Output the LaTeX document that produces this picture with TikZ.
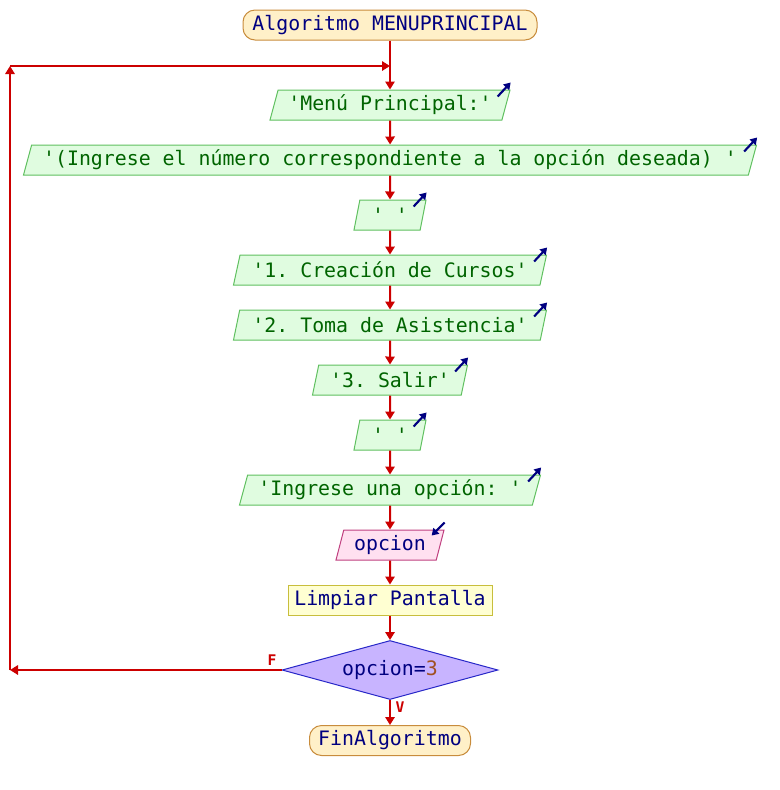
\documentclass[tikz,border=0pt]{standalone}
\usepackage{fontspec}
\setmonofont{DejaVu Sans Mono}
\usetikzlibrary{shapes.geometric,arrows.meta,calc}
\newcommand\px{0.75pt}
\definecolor{navytext}{RGB}{0,0,128}
\definecolor{strgreen}{RGB}{0,100,0}
\definecolor{outfill}{RGB}{224,252,224}
\definecolor{outdraw}{RGB}{96,192,96}
\definecolor{termfill}{RGB}{255,240,200}
\definecolor{termdraw}{RGB}{200,140,60}
\definecolor{procfill}{RGB}{255,255,210}
\definecolor{procdraw}{RGB}{200,190,60}
\definecolor{inpfill}{RGB}{255,224,240}
\definecolor{inpdraw}{RGB}{192,64,128}
\definecolor{decfill}{RGB}{200,180,255}
\definecolor{decdraw}{RGB}{40,40,200}
\definecolor{numcol}{RGB}{160,80,32}
\definecolor{flowred}{RGB}{204,0,0}
\begin{document}
\begin{tikzpicture}[x=0.75pt,y=-0.75pt,
  font=\ttfamily\fontsize{14.9}{18}\selectfont,
  base/.style={inner sep=0pt, minimum height=30*\px, text=navytext, line width=0.75pt},
  term/.style={base, rectangle, rounded corners=9pt, fill=termfill, draw=termdraw},
  proc/.style={base, rectangle, fill=procfill, draw=procdraw},
  para/.style={base, trapezium, trapezium left angle=68, trapezium right angle=112,
     trapezium stretches body},
  outp/.style={para, fill=outfill, draw=outdraw, text=strgreen},
  inp/.style={para, fill=inpfill, draw=inpdraw},
  dec/.style={base, diamond, aspect=3.66, minimum width=216*\px, minimum height=59*\px,
     fill=decfill, draw=decdraw},
  flow/.style={draw=flowred, line width=1.5pt, -{Triangle[length=6pt,width=7pt]}},
  icon/.style={draw=navytext, line width=1.6pt, -{Triangle[length=5pt,width=6pt]}},
  lab/.style={text=flowred, font=\ttfamily\bfseries\fontsize{11}{12}\selectfont, inner sep=0pt}
]
\useasboundingbox (0,0) rectangle (780,790);

\node[term, minimum width=294*\px] (start) at (390,25) {Algoritmo MENUPRINCIPAL};
\node[outp, minimum width=240*\px] (o1) at (390,105) {'Menú Principal:'};
\node[outp, minimum width=733*\px] (o2) at (390,160) {'(Ingrese el número correspondiente a la opción deseada) '};
\node[outp, minimum width=72*\px] (o3) at (390,215) {' '};
\node[outp, minimum width=313*\px] (o4) at (390,270) {'1. Creación de Cursos'};
\node[outp, minimum width=313*\px] (o5) at (390,325) {'2. Toma de Asistencia'};
\node[outp, minimum width=155*\px] (o6) at (390,380) {'3. Salir'};
\node[outp, minimum width=72*\px] (o7) at (390,435) {' '};
\node[outp, minimum width=301*\px] (o8) at (390,490) {'Ingrese una opción: '};
\node[inp, minimum width=108*\px] (in1) at (390,545) {opcion};
\node[proc, minimum width=204*\px] (clr) at (390,600) {Limpiar Pantalla};
\node[dec] (cond) at (390,670) {opcion=\textcolor{numcol}{3}};
\node[term, minimum width=161*\px] (fin) at (390,740.5) {FinAlgoritmo};

% icons
\foreach \n in {o1,o2,o3,o4,o5,o6,o7,o8}{
  \draw[icon] ($(\n.top right corner)+(-13,7)$) -- ($(\n.top right corner)+(0,-7)$);
}
\draw[icon] ($(in1.top right corner)+(0,-7)$) -- ($(in1.top right corner)+(-13,6)$);

% flow
\coordinate (merge) at (390,66);
\coordinate (lb) at (10,670);
\coordinate (lt) at (10,66);
\draw[flow] (start) -- (o1);
\draw[flow] (o1) -- (o2);
\draw[flow] (o2) -- (o3);
\draw[flow] (o3) -- (o4);
\draw[flow] (o4) -- (o5);
\draw[flow] (o5) -- (o6);
\draw[flow] (o6) -- (o7);
\draw[flow] (o7) -- (o8);
\draw[flow] (o8) -- (in1);
\draw[flow] (in1) -- (clr);
\draw[flow] (clr) -- (cond);
\draw[flow] (cond) -- (fin);
\draw[flow] (cond.west) -- (lb);
\draw[flow] (lb) -- (lt);
\draw[flow] (lt) -- (merge);

\node[lab] (lf) at (272,660) {F};
\node[lab] (lv) at (400,707) {V};
\end{tikzpicture}
\end{document}
